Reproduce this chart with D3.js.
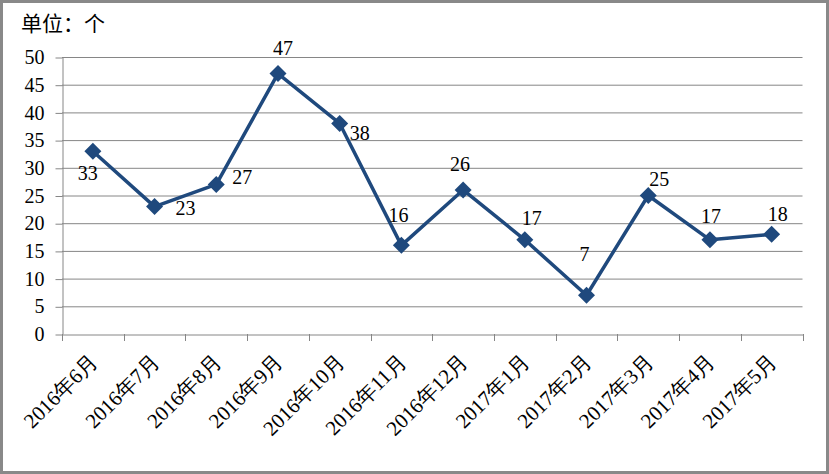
<!DOCTYPE html>
<html>
<head>
<meta charset="utf-8">
<script src="https://cdn.jsdelivr.net/npm/d3@7/dist/d3.min.js"></script>
<style>
  html, body { margin: 0; padding: 0; background: #fff; }
  svg { display: block; }
</style>
</head>
<body>
<script>
const categories = ["2016年6月","2016年7月","2016年8月","2016年9月","2016年10月","2016年11月","2016年12月","2017年1月","2017年2月","2017年3月","2017年4月","2017年5月"];
const values = [33, 23, 27, 47, 38, 16, 26, 17, 7, 25, 17, 18];
const yTicks = [0, 5, 10, 15, 20, 25, 30, 35, 40, 45, 50];
const unitLabel = "单位：个";
// label placement offsets (dx, dy of label centre relative to point)
const labelOffsets = [[-5,22],[31,2],[26,-7],[5,-25],[20,10],[-3,-30],[-3,-26],[7,-21],[-2,-41],[11,-16],[1,-23],[6,-20]];

(function () {
const W = 829, H = 474;
const pLeft = 62, pRight = 802.5, pTop = 57, pBottom = 334;
const serif = "'Liberation Serif', 'Times New Roman', serif";
const cjk = "'Noto Sans CJK SC', sans-serif";

const svg = d3.select("body").append("svg").attr("width", W).attr("height", H);

// border
svg.append("rect").attr("x", 1.5).attr("y", 1.5).attr("width", W - 3).attr("height", H - 3)
  .attr("fill", "#fff").attr("stroke", "#898989").attr("stroke-width", 3);

const x = d3.scaleBand().domain(categories).range([pLeft, pRight]);
const y = d3.scaleLinear().domain([0, 50]).range([pBottom, pTop]);

// gridlines
svg.append("g").selectAll("line").data(yTicks.filter(d => d > 0)).join("line")
  .attr("x1", pLeft).attr("x2", pRight)
  .attr("y1", d => y(d) + 0.5).attr("y2", d => y(d) + 0.5)
  .attr("stroke", "#868686").attr("stroke-width", 1);

// y axis
const yAxis = svg.append("g").attr("transform", `translate(${pLeft + 0.5},0)`)
  .call(d3.axisLeft(y).tickValues(yTicks).tickSize(7).tickPadding(11).tickSizeOuter(0));
yAxis.select(".domain").attr("stroke", "#868686");
yAxis.selectAll(".tick line").attr("stroke", "#868686").attr("transform", "translate(0,0.5)");
yAxis.selectAll(".tick text").attr("font-family", serif).attr("font-size", "20px").attr("fill", "#000").attr("dy", "0.33em");

// x axis
const xAxis = svg.append("g").attr("transform", `translate(0,${pBottom + 0.5})`)
  .call(d3.axisBottom(x).tickSize(0).tickSizeOuter(0).tickPadding(0));
xAxis.select(".domain").attr("stroke", "#868686");
xAxis.selectAll(".tick text")
  .attr("font-family", serif).attr("font-size", "21px").attr("fill", "#000")
  .attr("text-anchor", "end")
  .attr("transform", "translate(1,23) rotate(-45)")
  .attr("y", 0).attr("dy", "0.35em");
// boundary ticks
const bounds = categories.map(c => x(c)).concat([x(categories[categories.length - 1]) + x.bandwidth()]);
svg.append("g").selectAll("line").data(bounds).join("line")
  .attr("x1", d => Math.round(d) + 0.5).attr("x2", d => Math.round(d) + 0.5)
  .attr("y1", pBottom).attr("y2", pBottom + 7)
  .attr("stroke", "#868686");

// line
const cx = (d, i) => x(categories[i]) + x.bandwidth() / 2;
const line = d3.line().x((d, i) => cx(d, i)).y(d => y(d));
svg.append("path").datum(values).attr("d", line)
  .attr("fill", "none").attr("stroke", "#1F497D").attr("stroke-width", 3.5).attr("stroke-linejoin", "round");

// markers
const r = 8.5;
svg.append("g").selectAll("path").data(values).join("path")
  .attr("d", (d, i) => {
    const px = cx(d, i), py = y(d);
    return `M${px},${py - r}L${px + r},${py}L${px},${py + r}L${px - r},${py}Z`;
  })
  .attr("fill", "#1F497D");

// data labels
svg.append("g").selectAll("text").data(values).join("text")
  .attr("x", (d, i) => cx(d, i) + labelOffsets[i][0])
  .attr("y", (d, i) => y(d) + labelOffsets[i][1])
  .attr("dy", "0.33em")
  .attr("text-anchor", "middle")
  .attr("font-family", serif).attr("font-size", "20px").attr("fill", "#000")
  .text(d => d);

// unit label
svg.append("text").attr("x", 21).attr("y", 31)
  .attr("font-family", cjk).attr("font-size", "21px").attr("fill", "#000")
  .text(unitLabel);
})();
</script>
</body>
</html>
